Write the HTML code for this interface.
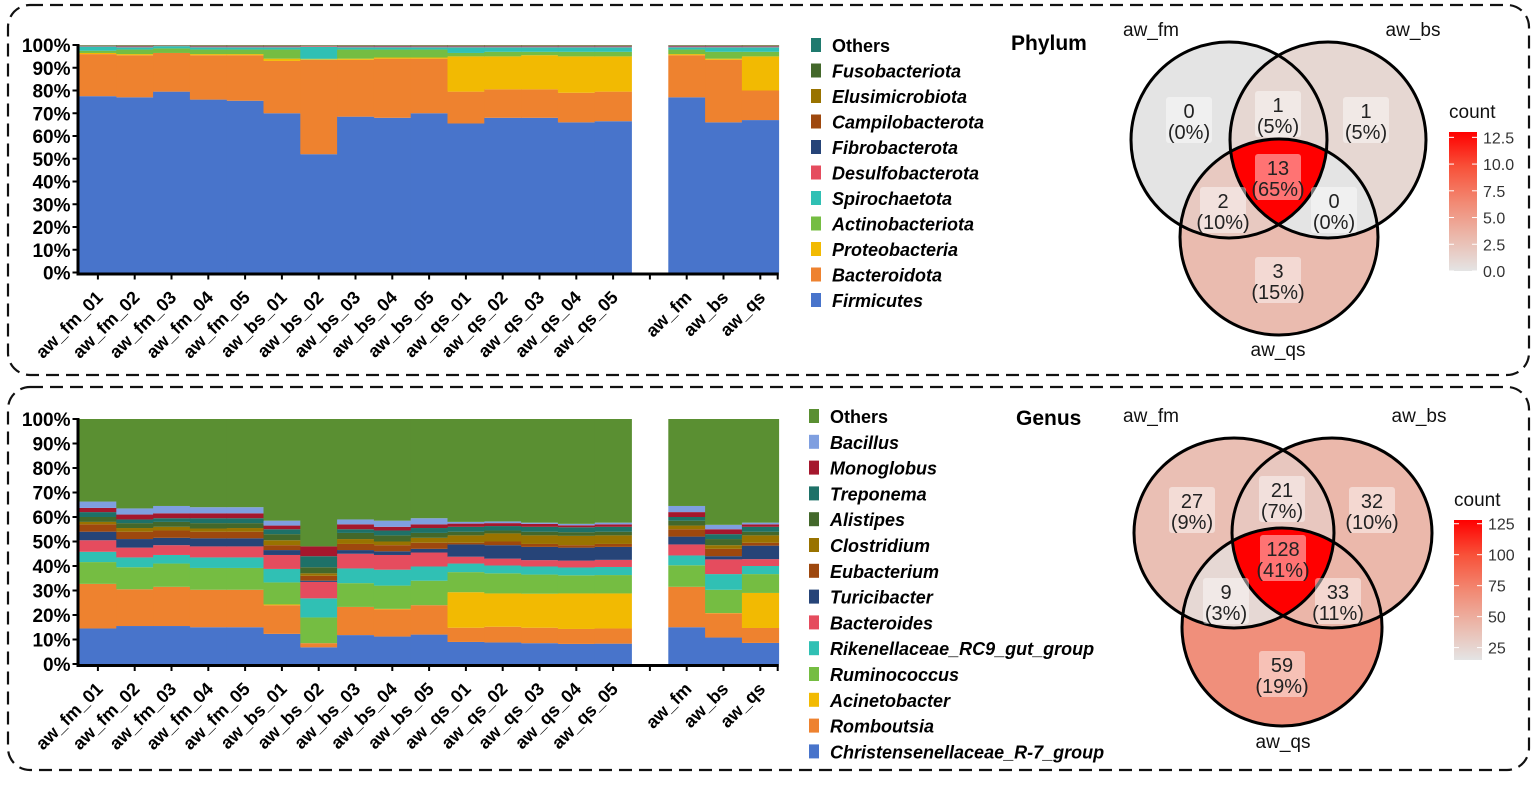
<!DOCTYPE html>
<html><head><meta charset="utf-8">
<style>
html,body{margin:0;padding:0;background:#fff;}
body{width:1535px;height:780px;overflow:hidden;}
svg text{font-family:"Liberation Sans Narrow","Liberation Sans",sans-serif;}
</style></head>
<body>
<svg id="fig" width="1535" height="780" viewBox="0 0 1535 780" xmlns="http://www.w3.org/2000/svg">
<rect x="8" y="5" width="1521" height="370" rx="22" fill="none" stroke="#111" stroke-width="2.2" stroke-dasharray="13 7"/>
<rect x="8" y="387" width="1521" height="383" rx="22" fill="none" stroke="#111" stroke-width="2.2" stroke-dasharray="13 7"/>
<g id="topPanel"></g>
<g id="botPanel"></g>
</svg>
<script>
// ---- data ----
const samples = ["aw_fm_01","aw_fm_02","aw_fm_03","aw_fm_04","aw_fm_05","aw_bs_01","aw_bs_02","aw_bs_03","aw_bs_04","aw_bs_05","aw_qs_01","aw_qs_02","aw_qs_03","aw_qs_04","aw_qs_05","","aw_fm","aw_bs","aw_qs"];
const yTicks = ["0%","10%","20%","30%","40%","50%","60%","70%","80%","90%","100%"];
// Phylum: cumulative top (%) of each layer per sample (blank slot = null)
const phylumNames = ["Firmicutes","Bacteroidota","Proteobacteria","Actinobacteriota","Spirochaetota","Desulfobacterota","Fibrobacterota","Campilobacterota","Elusimicrobiota","Fusobacteriota","Others"];
const phylumColors = ["#4874cb","#ee822f","#f2ba02","#75bd42","#30c0b4","#e54c5e","#264478","#9e480e","#997300","#43682b","#1f7a6e"];
const pFirm = [77.5,77,79.5,76,75.5,70,52,68.5,68,70,65.5,68,68,66,66.5,null,77,66,67];
const pBact = [96,95.5,96.5,95.5,95.5,93,93.5,93.5,94,94,79.5,80.5,80.5,79,79.5,null,95.5,93.5,80];
const pProt = [96.5,96,96.5,96,96,94,93.7,94,94.5,94.5,95,95,95.5,95,95,null,96,94,95];
const pActi = [97.5,98,98.5,98,98,98,94,98,98,98,96.5,97,97,97,97,null,98,97,97];
const pSpir = [99.3,99,99.5,99,99,99,99.2,99,99,99,99,99,99,99,99,null,99,99,99];
const pDesu = [99.5,99.3,99.6,99.3,99.3,99.3,99.5,99.3,99.4,99.3,99.3,99.3,99.3,99.3,99.3,null,99.4,99.4,99.3];
const pFibr = [99.6,99.5,99.7,99.5,99.5,99.5,99.6,99.5,99.6,99.5,99.5,99.5,99.5,99.5,99.5,null,99.6,99.6,99.5];
const pCamp = [99.7,99.7,99.8,99.7,99.7,99.7,99.7,99.7,99.7,99.7,99.7,99.7,99.7,99.7,99.7,null,99.7,99.7,99.7];
const pElus = [99.8,99.8,99.9,99.8,99.8,99.8,99.8,99.8,99.8,99.8,99.8,99.8,99.8,99.8,99.8,null,99.8,99.8,99.8];
const pFuso = [99.9,99.9,99.95,99.9,99.9,99.9,99.9,99.9,99.9,99.9,99.9,99.9,99.9,99.9,99.9,null,99.9,99.9,99.9];
const pOthe = [100,100,100,100,100,100,100,100,100,100,100,100,100,100,100,null,100,100,100];
// Genus: cumulative top (%) per layer
const genusNames = ["Christensenellaceae_R-7_group","Romboutsia","Acinetobacter","Ruminococcus","Rikenellaceae_RC9_gut_group","Bacteroides","Turicibacter","Eubacterium","Clostridium","Alistipes","Treponema","Monoglobus","Bacillus","Others"];
const genusColors = ["#4874cb","#ee822f","#f2ba02","#75bd42","#30c0b4","#e54c5e","#264478","#9e480e","#997300","#43682b","#1e7168","#a5172d","#7f9fe0","#5a8f32"];
const gChri = [14.5,15.5,15.5,15,15,12.3,6.8,11.8,11.2,12,9,8.8,8.5,8.2,8.3,null,15,10.8,8.6];
const gRomb = [32.7,30.5,31.5,30.3,30.3,24,8.5,23.3,22.3,24,14.8,15.2,14.8,14.3,14.5,null,31.5,20.7,14.7];
const gAcin = [32.7,30.5,31.5,30.3,30.3,24.3,8.5,23.3,22.5,24,29.3,28.8,28.7,28.8,28.8,null,31.5,20.8,29];
const gRumi = [41.6,39.5,41,39.2,39.2,33.3,19,33,32,34,37.5,37,36.5,36.2,36.3,null,40.3,30.3,36.7];
const gRike = [45.8,43.5,44.5,43.5,43.5,38.8,26.8,39,38.5,39.8,41,40.2,39.8,39.4,39.6,null,44.3,36.7,40];
const gBacte = [50.5,47.5,48.5,48,48,44.5,33.5,45,44.5,45.5,43.8,43,42.4,42.2,42.5,null,48.8,42.7,42.8];
const gTuri = [54,51,51.5,51.3,51.3,46.5,34,46.5,46,47,48.8,48.5,47.8,47.5,47.8,null,52,44,48.3];
const gEuba = [57,54,54.5,54,54,48.5,36,49,48.5,49.5,49.5,50,49,48.5,49,null,55,47,49.5];
const gClos = [58,55.5,56,55.3,55.5,50.5,37,51,50,51.5,52.5,53.3,52.5,52.3,52.5,null,56.5,48.5,52.5];
const gAlis = [60,57.5,58,57.5,57.5,53,39.5,53.5,52.5,53.5,54,54.5,54,53.8,54,null,58.5,51,54];
const gTrep = [62,59,59.5,59.5,59.5,55,44,55,54.5,55.5,56,56.3,56,55.8,56,null,60,53,56];
const gMono = [63.7,61,61.5,61.5,61.5,56.5,48,57,56,57,57.3,57.5,57.2,56.6,57,null,62,55,57];
const gBaci = [66.3,63.5,64.5,64,64,58.5,48,59,58.5,59.5,58,58.2,57.7,57.2,57.7,null,64.5,56.8,57.7];
const gOthe = [100,100,100,100,100,100,100,100,100,100,100,100,100,100,100,null,100,100,100];
// Venn data
const vennRegions = ["fm","bs","qs","fm_bs","fm_qs","bs_qs","all"];
const phylumCounts = [0,1,3,1,2,0,13];
const phylumPct = ["0%","5%","15%","5%","10%","0%","65%"];
const genusCounts = [27,32,59,21,9,33,128];
const genusPct = ["9%","10%","19%","7%","3%","11%","41%"];
const phylumScaleTicks = ["0.0","2.5","5.0","7.5","10.0","12.5"];
const phylumScaleVals = [0,2.5,5,7.5,10,12.5];
const genusScaleTicks = ["25","50","75","100","125"];
const genusScaleVals = [25,50,75,100,125];

const NS="http://www.w3.org/2000/svg";
function mk(tag, parent, attrs){const e=document.createElementNS(NS,tag);for(const k in attrs)e.setAttribute(k,attrs[k]);parent.appendChild(e);return e;}

const X0=79.5, SW=36.8;
function xScale(i){return X0+i*SW;}

function barChart(g, layers, colors, names, yb, yt, pfx){
  const yS=v=>yb-(yb-yt)*v/100;
  samples.forEach((s,i)=>{
    if(layers[0][i]===null) return;
    let prev=0;
    layers.forEach((arr,k)=>{
      const tp=arr[i];
      if(tp>prev){
        const r=mk('rect',g,{x:xScale(i),y:yS(tp),width:SW+0.4,height:yS(prev)-yS(tp),fill:colors[k]});
        
        
      }
      prev=Math.max(prev,tp);
    });
  });
  const ax=mk('path',g,{d:`M${X0-1.5} ${yt-1} V${yb+1.5} H${xScale(samples.length)}`,fill:'none',stroke:'#000','stroke-width':3});
  
  
  yTicks.forEach((t,k)=>{
    const y=yS(k*10);
    mk('line',g,{x1:X0-7,x2:X0,y1:y,y2:y,stroke:'#000','stroke-width':2});
    const tx=mk('text',g,{x:X0-9,y:y+7,'text-anchor':'end','font-size':19,'font-weight':'bold'});
    tx.textContent=t;
    
    
  });
  for(let i=0;i<=samples.length;i++){
    const cx=i<samples.length?xScale(i)+SW/2:xScale(i)-1;
    mk('line',g,{x1:cx,x2:cx,y1:yb,y2:yb+7,stroke:'#000','stroke-width':2});
  }
  samples.forEach((s,i)=>{
    const cx=xScale(i)+SW/2;
    if(!s) return;
    const tx=mk('text',g,{x:0,y:0,'text-anchor':'end','font-size':18,'font-weight':'bold',transform:`translate(${cx+6},${yb+26}) rotate(-45)`});
    tx.textContent=s;
    
    
  });
}

function legend(g, names, colors, x, y0, dy, pfx){
  for(let k=names.length-1, r=0; k>=0; k--, r++){
    const y=y0+r*dy;
    mk('rect',g,{x:x,y:y-9,width:10,height:14,fill:colors[k]});
    const tx=mk('text',g,{x:x+21,y:y+5,'font-size':18,'font-weight':'bold','font-style':names[k]==='Others'?'normal':'italic'});
    tx.textContent=names[k];
    
    
  }
}

function lerpCol(t){
  const r=Math.round(228+27*t), gg=Math.round(228*Math.pow(1-t,0.75)), b=Math.round(228*(1-t));
  return `rgb(${r},${gg},${b})`;
}

let clipN=0;
function venn(g, E, counts, pcts, maxV, scaleTicks, scaleVals, scaleBox, labels, pfx){
  const defs=mk('defs',g,{});
  const cid={};
  ['fm','bs','qs'].forEach(k=>{
    const id='c'+(clipN++);cid[k]=id;
    const cp=mk('clipPath',defs,{id:id});
    mk('ellipse',cp,{cx:E[k][0],cy:E[k][1],rx:E[k][2],ry:E[k][3]});
  });
  const col=i=>lerpCol(Math.min(1,counts[i]/maxV));
  const el=(parent,k,fill)=>mk('ellipse',parent,{cx:E[k][0],cy:E[k][1],rx:E[k][2],ry:E[k][3],fill:fill});
  el(g,'fm',col(0)); el(g,'bs',col(1)); el(g,'qs',col(2));
  const g1=mk('g',g,{'clip-path':`url(#${cid.fm})`}); el(g1,'bs',col(3));
  const g2=mk('g',g,{'clip-path':`url(#${cid.fm})`}); el(g2,'qs',col(4));
  const g3=mk('g',g,{'clip-path':`url(#${cid.bs})`}); el(g3,'qs',col(5));
  const g4=mk('g',g,{'clip-path':`url(#${cid.fm})`}); const g5=mk('g',g4,{'clip-path':`url(#${cid.bs})`}); el(g5,'qs',col(6));
  ['fm','bs','qs'].forEach(k=>{
    const o=mk('ellipse',g,{cx:E[k][0],cy:E[k][1],rx:E[k][2],ry:E[k][3],fill:'none',stroke:'#000','stroke-width':3});
    
    
  });
  const P=E.pos;
  vennRegions.forEach((r,i)=>{
    const [x,y]=P[i];
    const w=pcts[i].length>3?52:46;
    mk('rect',g,{x:x-w/2,y:y-23,width:w,height:46,rx:3,fill:'#fff','fill-opacity':0.45});
    const t1=mk('text',g,{x:x,y:y-2,'text-anchor':'middle','font-size':20,fill:'#222'});
    t1.textContent=counts[i];
    
    
    const t2=mk('text',g,{x:x,y:y+19,'text-anchor':'middle','font-size':20,fill:'#222'});
    t2.textContent='('+pcts[i]+')';
    
    
  });
  labels.forEach(l=>{
    const t=mk('text',g,{x:l[1],y:l[2],'text-anchor':'middle','font-size':19,fill:'#111'});
    t.textContent=l[0];
    
    
  });
  const [bx,byT,byB,minV]=scaleBox;
  const gid='grad'+(clipN++);
  const lg=mk('linearGradient',defs,{id:gid,x1:0,y1:1,x2:0,y2:0});
  [0,0.25,0.5,0.75,1].forEach(o=>mk('stop',lg,{offset:o,'stop-color':lerpCol(o)}));
  const sb=mk('rect',g,{x:bx,y:byT,width:28,height:byB-byT,fill:`url(#${gid})`});
  
  
  const ct=mk('text',g,{x:bx,y:byT-14,'font-size':19,fill:'#111'}); ct.textContent='count';
  
  
  const ys=v=>byB-(byB-byT)*(v-minV)/(maxV-minV);
  scaleVals.forEach((v,k)=>{
    const y=ys(v);
    mk('line',g,{x1:bx,x2:bx+5,y1:y,y2:y,stroke:'#fff','stroke-width':1});
    mk('line',g,{x1:bx+23,x2:bx+28,y1:y,y2:y,stroke:'#fff','stroke-width':1});
    const t=mk('text',g,{x:bx+34,y:y+6,'font-size':16,fill:'#333'}); t.textContent=scaleTicks[k];
    
    
  });
}

const topG=document.getElementById('topPanel'), botG=document.getElementById('botPanel');
barChart(topG,[pFirm,pBact,pProt,pActi,pSpir,pDesu,pFibr,pCamp,pElus,pFuso,pOthe],phylumColors,phylumNames,272.5,45,'phylum');
barChart(botG,[gChri,gRomb,gAcin,gRumi,gRike,gBacte,gTuri,gEuba,gClos,gAlis,gTrep,gMono,gBaci,gOthe],genusColors,genusNames,664,419,'genus');
legend(topG,phylumNames,phylumColors,811,47,25.5,'phylum');
legend(botG,genusNames,genusColors,809,418,25.8,'genus');
let tt=mk('text',topG,{x:1011,y:50,'font-size':21,'font-weight':'bold'});tt.textContent='Phylum';


tt=mk('text',botG,{x:1016,y:425,'font-size':21,'font-weight':'bold'});tt.textContent='Genus';



venn(topG,{fm:[1229,140,98,98],bs:[1328,140,98,98],qs:[1279,237,99,98],
  pos:[[1189,120],[1366,120],[1278,280],[1278,114],[1223,210],[1334,210],[1278,177]]},
  phylumCounts,phylumPct,13,phylumScaleTicks,phylumScaleVals,[1449,132,271,0],
  [["aw_fm",1151,36],["aw_bs",1413,36],["aw_qs",1278,356]],'phylum');
venn(botG,{fm:[1234,533,100,95],bs:[1332,533,100,95],qs:[1282,627,100,99],
  pos:[[1192,510],[1372,510],[1282,674],[1282,499],[1226,601],[1338,601],[1283,558]]},
  genusCounts,genusPct,128,genusScaleTicks,genusScaleVals,[1454,520,660,15],
  [["aw_fm",1151,422],["aw_bs",1419,422],["aw_qs",1283,748]],'genus');
</script>
</body></html>
